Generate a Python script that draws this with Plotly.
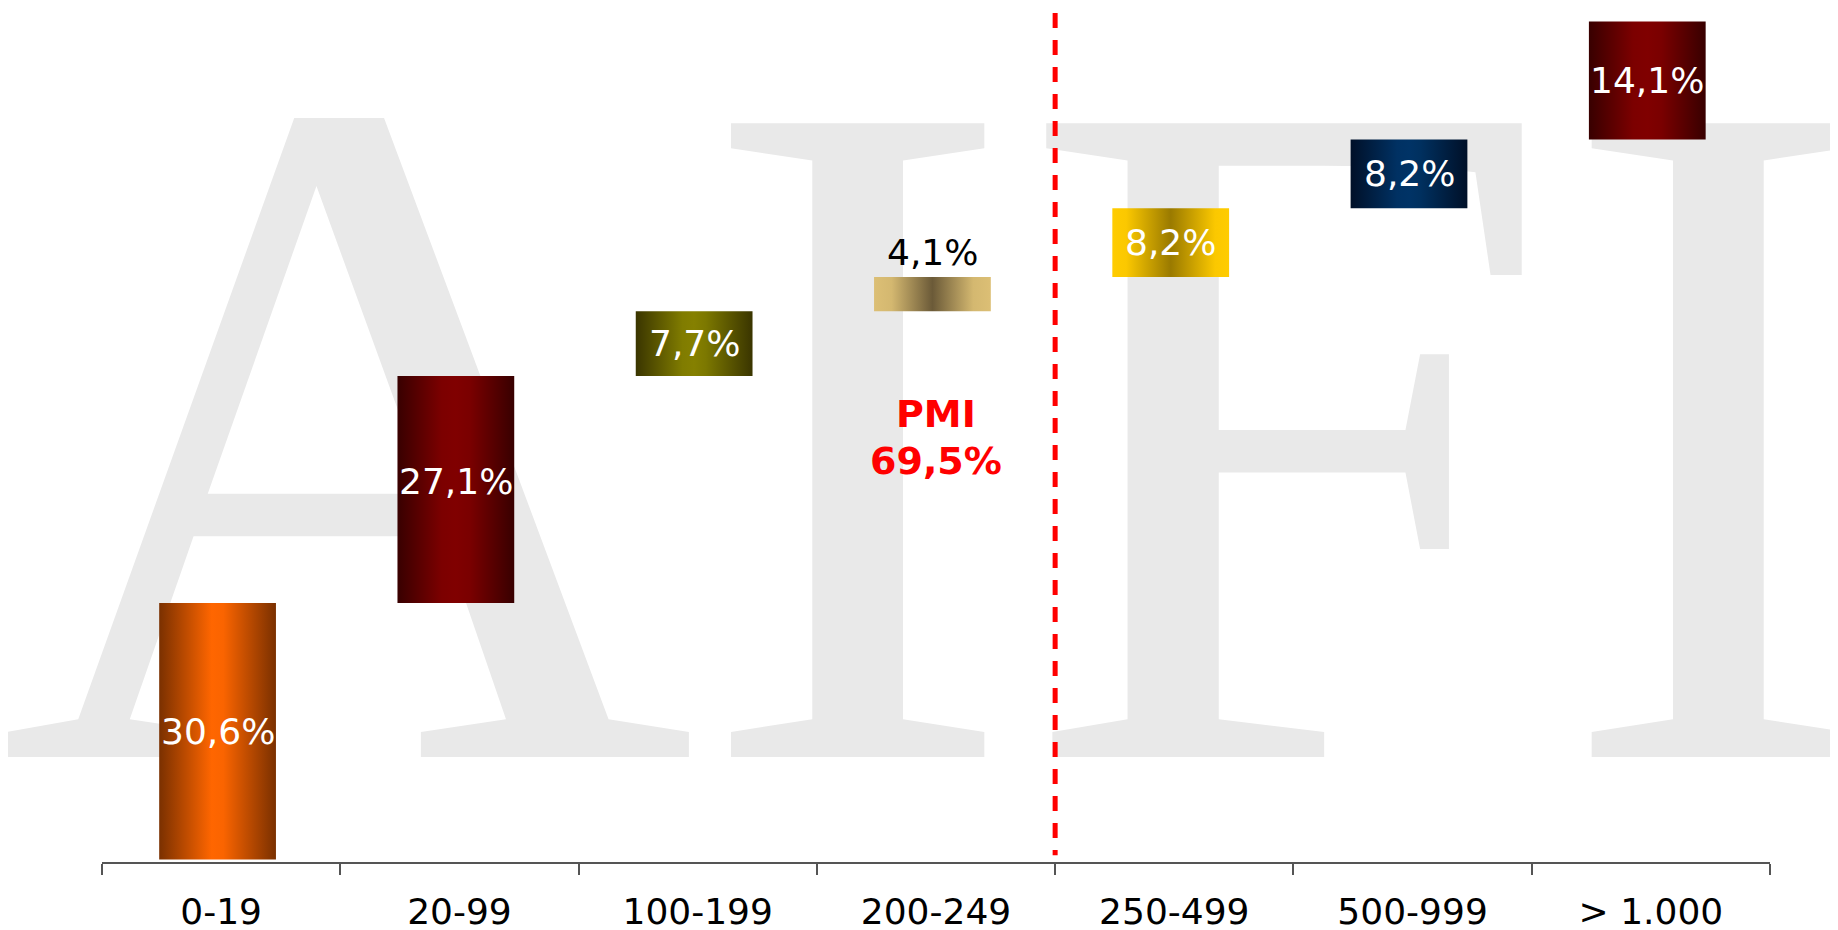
import plotly.graph_objects as go

# ---- data ----
categories = ['0-19', '20-99', '100-199', '200-249', '250-499', '500-999', '> 1.000']
shares = [30.6, 27.1, 7.7, 4.1, 8.2, 8.2, 14.1]
share_labels = ['30,6%', '27,1%', '7,7%', '4,1%', '8,2%', '8,2%', '14,1%']
pmi_title = 'PMI'
pmi_value_label = '69,5%'
pmi_split = 4  # PMI = first four classes
watermark_text = 'AIFI'

# ---- styles ----
gradients = [
    [[0, '#7a3000'], [0.45, '#ff6600'], [0.55, '#fa6400'], [1, '#7a3000']],
    [[0, '#380000'], [0.38, '#7c0000'], [0.5, '#800000'], [0.62, '#7a0000'], [1, '#380000']],
    [[0, '#3a3500'], [0.4, '#807c00'], [0.5, '#858000'], [0.6, '#7c7800'], [1, '#3a3500']],
    [[0, '#dcbf75'], [0.15, '#d4b870'], [0.5, '#6b5a38'], [0.85, '#d4b870'], [1, '#dcbf75']],
    [[0, '#ffcc00'], [0.12, '#fbc800'], [0.5, '#9a7a00'], [0.88, '#fbc800'], [1, '#ffcc00']],
    [[0, '#001028'], [0.4, '#003163'], [0.5, '#003366'], [0.6, '#00305f'], [1, '#001028']],
    [[0, '#380000'], [0.38, '#7c0000'], [0.5, '#800000'], [0.62, '#7a0000'], [1, '#380000']],
]
label_colors = ['white', 'white', 'white', 'black', 'white', 'white', 'white']
label_yshift = [0, 8, 0, 2, 0, 0, 0]
W, H = 1838, 930
ML, MR, MT, MB = 94, 76, 5, 76
BAR_W = 0.49
BAR_OFFSET = -0.015
FONT = 'DejaVu Sans, Verdana, sans-serif'

fig = go.Figure()

# watermark on base subplot (axes in figure-pixel units), drawn beneath the bars
WM_SIZE = 968
WM_BASELINE = 749
WM_CENTER_X = 930
fig.add_trace(go.Scatter(
    x=[WM_CENTER_X], y=[WM_BASELINE - 0.25 * WM_SIZE], mode='text', text=[watermark_text],
    textposition='middle center', cliponaxis=False, hoverinfo='skip', showlegend=False,
    textfont=dict(family='Liberation Serif, Times New Roman, serif', size=WM_SIZE, color='#e9e9e9'),
    xaxis='x', yaxis='y'))

# waterfall bars with horizontal gradients
base = 0.0
annotations = []
for i, (cat, v) in enumerate(zip(categories, shares)):
    c = i + 0.5 + BAR_OFFSET
    x0, x1 = c - BAR_W / 2, c + BAR_W / 2
    y0, y1 = base, base + v
    fig.add_trace(go.Scatter(
        x=[x0, x1, x1, x0, x0], y=[y0, y0, y1, y1, y0],
        mode='lines', fill='toself', line=dict(width=0, color='rgba(0,0,0,0)'),
        fillgradient=dict(type='horizontal', colorscale=gradients[i]),
        hoverinfo='skip', showlegend=False, xaxis='x2', yaxis='y2'))
    if label_colors[i] == 'black':
        annotations.append(dict(x=c, y=y1, xref='x2', yref='y2', text=share_labels[i],
                                showarrow=False, yanchor='bottom', yshift=label_yshift[i],
                                font=dict(family=FONT, size=36, color=label_colors[i])))
    else:
        annotations.append(dict(x=c, y=(y0 + y1) / 2, xref='x2', yref='y2', text=share_labels[i],
                                showarrow=False, yanchor='middle', yshift=label_yshift[i],
                                font=dict(family=FONT, size=36, color=label_colors[i])))
    base = y1

pmi_x = pmi_split - 0.5
annotations.append(dict(x=pmi_x, y=53.2, xref='x2', yref='y2', text='<b>' + pmi_title + '</b>',
                        showarrow=False, yanchor='middle',
                        font=dict(family=FONT, size=38, color='#ff0000')))
annotations.append(dict(x=pmi_x, y=47.6, xref='x2', yref='y2', text='<b>' + pmi_value_label + '</b>',
                        showarrow=False, yanchor='middle',
                        font=dict(family=FONT, size=38, color='#ff0000')))

fig.update_layout(
    width=W, height=H,
    margin=dict(l=ML, r=MR, t=MT, b=MB, pad=0),
    paper_bgcolor='white', plot_bgcolor='rgba(0,0,0,0)',
    showlegend=False,
    xaxis=dict(range=[ML, W - MR], visible=False, fixedrange=True),
    yaxis=dict(range=[H - MB, MT], visible=False, fixedrange=True),
    xaxis2=dict(overlaying='x', anchor='y2', range=[0, len(categories)],
                tickmode='array', tickvals=[i + 0.5 for i in range(len(categories))],
                ticktext=categories, ticks='', showgrid=False, zeroline=False,
                showline=True, linecolor='#555555', linewidth=1.5,
                tickfont=dict(family=FONT, size=36, color='black'),
                ticklabelstandoff=17,
                minor=dict(tickmode='array', tickvals=list(range(len(categories) + 1)),
                           ticks='outside', ticklen=11, tickwidth=1.5, tickcolor='#555555',
                           showgrid=False)),
    yaxis2=dict(overlaying='y', anchor='x2', range=[-0.3, 101], visible=False),
    annotations=annotations,
    shapes=[dict(type='line', xref='x2', yref='paper', x0=pmi_split, x1=pmi_split, y0=1, y1=0.008,
                 line=dict(color='#ff0000', width=5, dash='15px,12px'))],
)

fig.write_html('out.html')
